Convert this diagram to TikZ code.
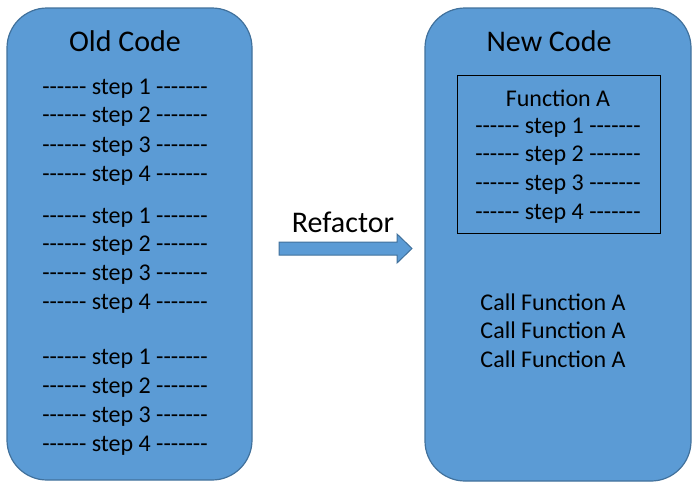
\documentclass[tikz,border=0pt]{standalone}
\usepackage{fontspec}
\setmainfont{Carlito}[Ligatures=TeXOff]
\usetikzlibrary{positioning}

\definecolor{boxblue}{HTML}{5B9BD5}
\definecolor{boxedge}{HTML}{41719C}

\begin{document}
\begin{tikzpicture}[x=1pt, y=-1pt,
			codebox/.style={draw=boxedge, fill=boxblue, line width=1.2pt, rounded corners=40pt},
			title/.style={font=\fontsize{30}{36}\selectfont},
			stepline/.style={font=\fontsize{24}{28}\selectfont, inner sep=0pt, yshift=-2pt},
			funcbox/.style={draw=black, line width=0.8pt}
			]
			\useasboundingbox (0,0) rectangle (700,488);
			
			% Old code panel
			\draw[codebox] (7,8) rectangle (252,480);
			\node[title] (oldtitle) at (125,41) {Old Code};
			\foreach \y/\n [count=\i] in {87/1,115/2,145/3,174/4,216/1,244/2,273/3,302/4,357/1,386/2,415/3,444/4}
				\node[stepline] (old\i) at (125,\y) {------ step \n\ -------};
			
			% New code panel
			\draw[codebox] (425,8) rectangle (691,481);
			\node[title] (newtitle) at (549,41) {New Code};
			\draw[funcbox] (457,75) rectangle (660,233);
			\node[stepline] (funca) at (558,96) {Function A};
			\foreach \y/\n in {126/1,154/2,183/3,212/4}
				\node[stepline] (new\n) at (558,\y) {------ step \n\ -------};
			\foreach \y [count=\i] in {300,328,357}
				\node[stepline] (call\i) at (553,\y) {Call Function A};
			
			% Refactor arrow
			\draw[boxedge, fill=boxblue, line width=1pt]
				(279,242) -- (397,242) -- (397,234) -- (412,248.5) -- (397,263) -- (397,255) -- (279,255) -- cycle;
			\node[title] (refactor) at (343,222) {Refactor};
		\end{tikzpicture}
\end{document}
